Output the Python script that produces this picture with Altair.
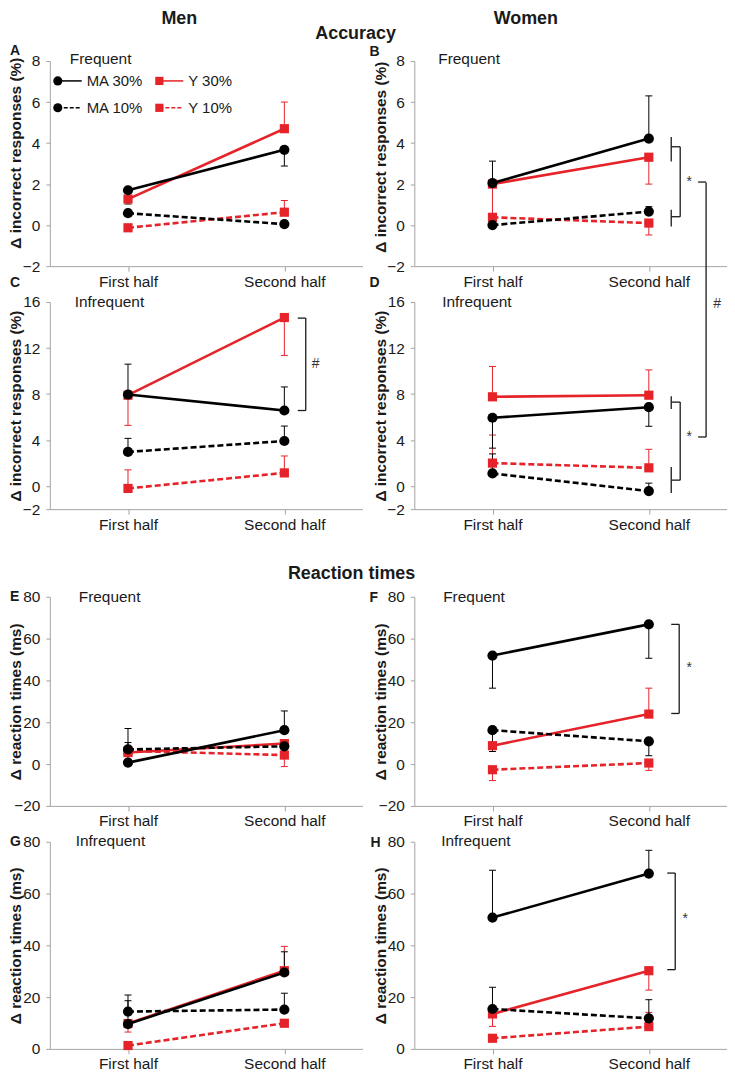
import altair as alt
import pandas as pd

FONT = "Liberation Sans"
INK = "#1a1a1a"
BLACK = "#000000"
RED = "#e52329"
AXIS_GREY = "#a3a3a3"

HALVES = ["First half", "Second half"]
SERIES = ["MA 30%", "Y 30%", "MA 10%", "Y 10%"]

ACC_FREQ_TICKS = [-2, 0, 2, 4, 6, 8]
ACC_INFREQ_TICKS = [-2, 0, 4, 8, 12, 16]
RT_FREQ_TICKS = [-20, 0, 20, 40, 60, 80]
RT_INFREQ_TICKS = [0, 20, 40, 60, 80]

# ---- means (first half, second half) and error-bar end points ----
A_MEAN = {"MA 30%": [1.70, 3.67], "Y 30%": [1.27, 4.70], "MA 10%": [0.58, 0.05], "Y 10%": [-0.13, 0.63]}
A_ERR = {"MA 30%": [1.03, 2.88], "Y 30%": [None, 6.00], "MA 10%": [None, None], "Y 10%": [None, 1.20]}

B_MEAN = {"MA 30%": [2.05, 4.22], "Y 30%": [2.00, 3.31], "MA 10%": [0.00, 0.66], "Y 10%": [0.38, 0.10]}
B_ERR = {"MA 30%": [3.12, 6.30], "Y 30%": [0.40, 2.00], "MA 10%": [None, 0.90], "Y 10%": [None, -0.48]}

C_MEAN = {"MA 30%": [7.96, 6.57], "Y 30%": [7.90, 14.65], "MA 10%": [2.97, 3.92], "Y 10%": [-0.20, 1.15]}
C_ERR = {"MA 30%": [10.60, 8.62], "Y 30%": [5.28, 11.36], "MA 10%": [4.15, 5.22], "Y 10%": [1.41, 2.62]}

D_MEAN = {"MA 30%": [5.94, 6.86], "Y 30%": [7.76, 7.90], "MA 10%": [1.10, -0.43], "Y 10%": [2.00, 1.59]}
D_ERR = {"MA 30%": [3.30, 5.20], "Y 30%": [10.40, 10.10], "MA 10%": [2.80, 0.26], "Y 10%": [4.44, 3.20]}

E_MEAN = {"MA 30%": [0.7, 16.2], "Y 30%": [5.5, 9.8], "MA 10%": [7.0, 8.5], "Y 10%": [6.3, 4.3]}
E_ERR = {"MA 30%": [10.3, 25.4], "Y 30%": [None, None], "MA 10%": [17.0, None], "Y 10%": [None, -1.2]}

F_MEAN = {"MA 30%": [51.9, 66.8], "Y 30%": [8.8, 23.9], "MA 10%": [16.2, 10.9], "Y 10%": [-2.7, 0.5]}
F_ERR = {"MA 30%": [36.3, 50.6], "Y 30%": [None, 36.3], "MA 10%": [6.0, 4.0], "Y 10%": [-7.9, -3.0]}

G_MEAN = {"MA 30%": [9.6, 29.5], "Y 30%": [9.8, 30.2], "MA 10%": [14.4, 15.2], "Y 10%": [1.3, 9.9]}
G_ERR = {"MA 30%": [18.6, 37.5], "Y 30%": [6.5, 39.6], "MA 10%": [20.8, 21.5], "Y 10%": [None, None]}

H_MEAN = {"MA 30%": [50.7, 67.7], "Y 30%": [13.5, 30.2], "MA 10%": [15.4, 11.8], "Y 10%": [4.1, 8.6]}
H_ERR = {"MA 30%": [69.0, 76.7], "Y 30%": [8.7, 22.7], "MA 10%": [23.8, 19.0], "Y 10%": [None, 14.1]}

# significance brackets (data units): (top, bottom) of each arm, star level
B_UPPER = [4.30, 3.10, 3.82]
B_LOWER = [0.75, -0.07, 0.41]
B_STAR = 2.1
D_UPPER = [7.80, 6.70, 7.30]
D_LOWER = [1.67, -0.60, 0.52]
D_STAR = 4.27
C_BRACKET = [14.60, 6.57, 10.6]
F_BRACKET = [66.8, 24.2, 45.8]
H_BRACKET = [67.9, 30.6, 50.3]

W = 314
ONE = pd.DataFrame({"k": [0]})

STYLE = {
    "MA 30%": dict(color=BLACK, dash=None, shape="circle", size=105),
    "Y 30%": dict(color=RED, dash=None, shape="square", size=85),
    "MA 10%": dict(color=BLACK, dash=[6, 3], shape="circle", size=105),
    "Y 10%": dict(color=RED, dash=[6, 3], shape="square", size=85),
}
DRAW_ORDER = ["Y 10%", "Y 30%", "MA 10%", "MA 30%"]


def frame(means, errs):
    rows = []
    for s in SERIES:
        for i, h in enumerate(HALVES):
            rows.append({"series": s, "half": h, "mean": means[s][i], "err": errs[s][i]})
    return pd.DataFrame(rows)


def text_at(txt, x, y, size=15.5, weight="normal", align="left", color=INK):
    return alt.Chart(ONE).mark_text(
        text=txt, font=FONT, fontSize=size, fontWeight=weight, align=align,
        baseline="middle", color=color,
    ).encode(x=alt.value(x), y=alt.value(y))


def text_datum(txt, x, y, size=14):
    return alt.Chart(ONE).mark_text(
        text=txt, font=FONT, fontSize=size, align="center", baseline="middle", color="#333333",
    ).encode(x=alt.value(x), y=alt.datum(y))


def seg_v(x, y1, y2):
    return alt.Chart(ONE).mark_rule(color=INK, strokeWidth=1.3).encode(
        x=alt.value(x), y=alt.datum(y1), y2=alt.datum(y2))


def seg_h(x1, x2, y):
    return alt.Chart(ONE).mark_rule(color=INK, strokeWidth=1.3).encode(
        x=alt.value(x1), x2=alt.value(x2), y=alt.datum(y))


def double_bracket(upper, lower, star):
    return [
        seg_v(258, upper[0], upper[1]), seg_h(258, 267, upper[2]),
        seg_v(258, lower[0], lower[1]), seg_h(258, 267, lower[2]),
        seg_v(267, upper[2], lower[2]),
        text_datum("*", 276, star), seg_h(285, 293, star),
    ]


def single_bracket(x, vals, mark):
    return [
        seg_v(x, vals[0], vals[1]), seg_h(x - 8, x, vals[0]), seg_h(x - 8, x, vals[1]),
        text_datum(mark, x + 10, vals[2]),
    ]


def legend_item(label, x0, y0):
    st = STYLE[label]
    rule_kw = dict(color=st["color"], strokeWidth=1.5)
    if st["dash"]:
        rule_kw["strokeDash"] = [4, 2]
    return [
        alt.Chart(ONE).mark_rule(**rule_kw).encode(
            x=alt.value(x0), x2=alt.value(x0 + 24), y=alt.value(y0)),
        alt.Chart(ONE).mark_point(shape=st["shape"], filled=True, opacity=1,
                                  size=st["size"] * 0.8, color=st["color"]).encode(
            x=alt.value(x0), y=alt.value(y0)),
        text_at(label, x0 + 29, y0, size=15),
    ]


def panel(means, errs, ticks, ytitle, height, title_y, letter, lxy, cond, cxy, extras=()):
    df = frame(means, errs)
    xenc = alt.X("half:N", scale=alt.Scale(type="point", domain=HALVES, padding=0.5),
                 axis=alt.Axis(title=None, labelAngle=0, tickSize=5, labelPadding=3))
    yscale = alt.Scale(domain=[ticks[0], ticks[-1]], nice=False, zero=False)
    yaxis = alt.Axis(values=ticks, title=ytitle, tickSize=4, labelPadding=6,
                     titleX=-26, titleY=title_y, titleAlign="center", titleBaseline="bottom")
    layers = []
    for s in DRAW_ORDER:
        st = STYLE[s]
        e = df[(df.series == s) & df.err.notna()]
        if len(e):
            layers.append(alt.Chart(e).mark_rule(color=st["color"], strokeWidth=1).encode(
                x=xenc, y=alt.Y("mean:Q", scale=yscale, axis=yaxis), y2="err:Q"))
            layers.append(alt.Chart(e).mark_tick(color=st["color"], thickness=1, size=7,
                                                 opacity=1).encode(
                x=xenc, y=alt.Y("err:Q", scale=yscale, axis=yaxis)))
    for s in DRAW_ORDER:
        st = STYLE[s]
        sub = df[df.series == s]
        line_kw = dict(color=st["color"], strokeWidth=2.6)
        if st["dash"]:
            line_kw["strokeDash"] = st["dash"]
        layers.append(alt.Chart(sub).mark_line(**line_kw).encode(
            x=xenc, y=alt.Y("mean:Q", scale=yscale, axis=yaxis)))
        layers.append(alt.Chart(sub).mark_point(shape=st["shape"], filled=True, opacity=1,
                                                size=st["size"], color=st["color"]).encode(
            x=xenc, y=alt.Y("mean:Q", scale=yscale, axis=yaxis)))
    layers.append(text_at(letter, lxy[0], lxy[1], size=14, weight="bold"))
    layers.append(text_at(cond, cxy[0], cxy[1]))
    layers.extend(extras)
    return alt.layer(*layers).properties(width=W, height=height)


ACC_T = "Δ incorrect responses (%)"
RT_T = "Δ reaction times (ms)"

legend = []
for lab, x0, y0 in [("MA 30%", 8, 20), ("Y 30%", 110, 20), ("MA 10%", 8, 47), ("Y 10%", 110, 47)]:
    legend += legend_item(lab, x0, y0)

a_extra = legend + [
    text_at("Men", 130, -42, size=18, weight="bold", align="center"),
    text_at("Accuracy", 307, -27, size=18, weight="bold", align="center"),
]
b_extra = [text_at("Women", 112, -42, size=18, weight="bold", align="center")]
b_extra += double_bracket(B_UPPER, B_LOWER, B_STAR)
c_extra = single_bracket(257, C_BRACKET, "#")
d_extra = double_bracket(D_UPPER, D_LOWER, D_STAR) + [
    alt.Chart(ONE).mark_rule(color=INK, strokeWidth=1.3).encode(
        x=alt.value(293), y=alt.datum(D_STAR), y2=alt.value(-120)),
    text_at("#", 304, 2, size=14, align="center", color="#333333"),
]
e_extra = [text_at("Reaction times", 303, -23, size=18, weight="bold", align="center")]
f_extra = single_bracket(266, F_BRACKET, "*")
h_extra = single_bracket(262, H_BRACKET, "*")

pA = panel(A_MEAN, A_ERR, ACC_FREQ_TICKS, ACC_T, 206, 92, "A", (-40, -10), "Frequent", (20, -2), a_extra)
pB = panel(B_MEAN, B_ERR, ACC_FREQ_TICKS, ACC_T, 206, 96, "B", (-45, -9), "Frequent", (24, -2), b_extra)
pC = panel(C_MEAN, C_ERR, ACC_INFREQ_TICKS, ACC_T, 208, 104, "C", (-40, -19), "Infrequent", (25, 0), c_extra)
pD = panel(D_MEAN, D_ERR, ACC_INFREQ_TICKS, ACC_T, 208, 104, "D", (-45, -19), "Infrequent", (28, 0), d_extra)
pE = panel(E_MEAN, E_ERR, RT_FREQ_TICKS, RT_T, 210, 105, "E", (-40, 0), "Frequent", (29, 0), e_extra)
pF = panel(F_MEAN, F_ERR, RT_FREQ_TICKS, RT_T, 210, 105, "F", (-45, 1), "Frequent", (29, 0), f_extra)
pG = panel(G_MEAN, G_ERR, RT_INFREQ_TICKS, RT_T, 208, 104, "G", (-40, 0), "Infrequent", (26, -1))
pH = panel(H_MEAN, H_ERR, RT_INFREQ_TICKS, RT_T, 208, 104, "H", (-44, 1), "Infrequent", (27, -1), h_extra)


def spacer():
    return alt.Chart(ONE).mark_point(opacity=0).encode(
        x=alt.value(0), y=alt.value(0)).properties(width=W, height=16)


chart = alt.concat(
    pA, pB, pC, pD, spacer(), spacer(), pE, pF, pG, pH,
    columns=2, spacing={"row": 36, "column": 52}, bounds="flush", align="each",
).properties(
    padding=0, background="white",
).configure_view(stroke=None).configure_axis(
    grid=False, domainColor=AXIS_GREY, tickColor=AXIS_GREY, domainWidth=1, tickWidth=1,
    labelFont=FONT, labelFontSize=15.5, labelColor=INK,
    titleFont=FONT, titleFontSize=15.5, titleFontWeight="bold", titleColor=INK,
)

chart.save("out.html", embed_options={"renderer": "svg", "actions": False})
